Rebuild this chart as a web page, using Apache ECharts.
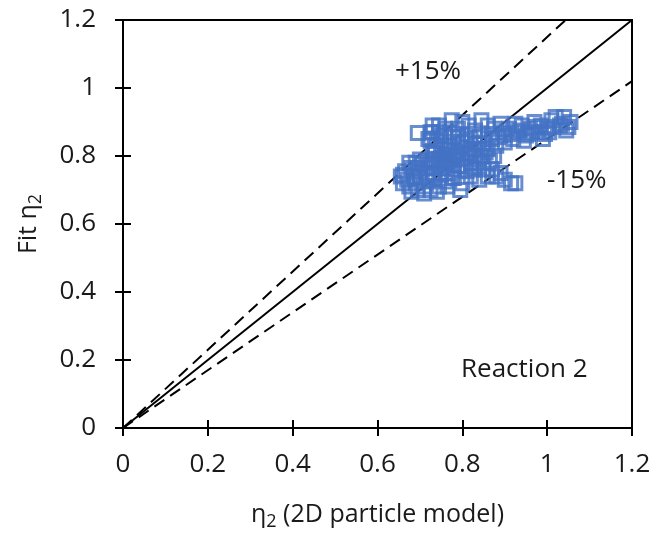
<!DOCTYPE html>
<html>
<head>
<meta charset="utf-8">
<script src="https://cdn.jsdelivr.net/npm/echarts@6/dist/echarts.min.js"></script>
<style>
  html, body { margin: 0; padding: 0; background: #fff; }
  #chart { width: 655px; height: 539px; }
</style>
</head>
<body>
<div id="chart"></div>
<script>
// eta2 from the 2D particle model (x) vs fitted eta2 (y)
var etaModel = [
  0.655, 0.66, 0.665, 0.67, 0.675, 0.68, 0.685, 0.69, 0.695, 0.70, 0.70, 0.705, 0.71, 0.715, 0.72, 0.72,
  0.725, 0.73, 0.735, 0.74, 0.745, 0.75, 0.755, 0.76, 0.765, 0.77, 0.775, 0.78, 0.68, 0.695, 0.71, 0.74,
  0.66, 0.69, 0.725,
  0.73, 0.745, 0.76, 0.775, 0.79, 0.80, 0.815, 0.83, 0.845, 0.86, 0.875, 0.89, 0.72, 0.735,
  0.74, 0.75, 0.76, 0.77, 0.78, 0.79, 0.80, 0.80, 0.81, 0.82, 0.83, 0.84, 0.85, 0.86, 0.87, 0.78,
  0.76, 0.79, 0.82, 0.84, 0.88, 0.81, 0.83, 0.85, 0.80, 0.82, 0.84, 0.78, 0.795, 0.765,
  0.90, 0.91, 0.92, 0.93, 0.94, 0.95, 0.96, 0.97, 0.98, 0.99, 1.00, 1.01, 1.02, 1.03, 1.045, 1.055,
  0.985, 0.90, 0.945, 1.04,
  0.87, 0.88, 0.89, 0.90, 0.915, 0.925, 0.86, 0.85,
  0.695,
  0.75, 0.77, 0.79, 0.81, 0.83, 0.85, 0.87, 0.755, 0.775, 0.795, 0.815, 0.835, 0.855, 0.875, 0.895,
  0.745, 0.765, 0.785, 0.805, 0.825, 0.845, 0.865, 0.885, 0.73, 0.75, 0.77, 0.79, 0.81, 0.83,
  0.915, 0.935, 0.955, 0.975, 0.995, 1.015, 1.035, 1.05, 0.925, 0.965, 1.005,
  0.725, 0.725, 0.73, 0.745, 0.76, 0.735, 0.70, 0.715, 0.675, 0.73
];
var etaFit = [
  0.74, 0.72, 0.755, 0.73, 0.71, 0.765, 0.74, 0.72, 0.70, 0.755, 0.735, 0.775, 0.71, 0.745, 0.765, 0.725,
  0.70, 0.75, 0.73, 0.775, 0.71, 0.745, 0.765, 0.725, 0.75, 0.78, 0.735, 0.76, 0.695, 0.765, 0.69, 0.695,
  0.745, 0.78, 0.78,
  0.87, 0.89, 0.88, 0.905, 0.88, 0.90, 0.89, 0.875, 0.905, 0.89, 0.88, 0.895, 0.85, 0.83,
  0.845, 0.82, 0.80, 0.83, 0.855, 0.81, 0.79, 0.84, 0.865, 0.82, 0.80, 0.84, 0.86, 0.82, 0.85, 0.79,
  0.775, 0.77, 0.78, 0.79, 0.83, 0.755, 0.76, 0.78, 0.72, 0.74, 0.73, 0.735, 0.70, 0.71,
  0.86, 0.88, 0.85, 0.87, 0.89, 0.86, 0.88, 0.90, 0.87, 0.85, 0.88, 0.905, 0.915, 0.89, 0.875, 0.90,
  0.89, 0.84, 0.845, 0.915,
  0.76, 0.74, 0.75, 0.73, 0.72, 0.72, 0.74, 0.76,
  0.868,
  0.86, 0.87, 0.855, 0.845, 0.855, 0.835, 0.865, 0.805, 0.815, 0.825, 0.81, 0.82, 0.81, 0.80, 0.87,
  0.79, 0.785, 0.80, 0.77, 0.765, 0.80, 0.785, 0.855, 0.815, 0.795, 0.805, 0.835, 0.805, 0.835,
  0.865, 0.875, 0.865, 0.885, 0.865, 0.885, 0.895, 0.885, 0.895, 0.87, 0.87,
  0.87, 0.845, 0.89, 0.87, 0.86, 0.81, 0.79, 0.785, 0.78, 0.79
];
var axisTicks = [0, 0.2, 0.4, 0.6, 0.8, 1, 1.2];
var lineEnd = 1.2;
var upperSlope = 1.15;   // +15%
var lowerSlope = 0.85;   // -15%

var points = etaModel.map(function (x, i) { return [x, etaFit[i]]; });
var parity = [[0, 0], [lineEnd, lineEnd]];
var upper = [[0, 0], [lineEnd / upperSlope, lineEnd]];
var lower = [[0, 0], [lineEnd, lineEnd * lowerSlope]];

var FONT = '"Open Sans", Lato, sans-serif';
var txt = '#1a1a1a';
var gridBox = { left: 123, right: 23, top: 20, bottom: 111 };

// main axes: line, outer tick half, labels, names
function makeAxis(pos, name, gap) {
  return {
    type: 'value',
    gridIndex: 0,
    position: pos,
    min: axisTicks[0],
    max: axisTicks[axisTicks.length - 1],
    interval: 0.2,
    name: name,
    nameLocation: 'middle',
    nameGap: gap,
    nameRotate: pos === 'left' ? 90 : 0,
    nameTextStyle: {
      fontFamily: FONT, fontSize: 25, color: txt,
      rich: {
        m: { fontFamily: FONT, fontSize: 25, color: txt, lineHeight: 33 },
        s: { fontFamily: FONT, fontSize: 18, color: txt, lineHeight: 18, verticalAlign: 'bottom' }
      }
    },
    splitLine: { show: false },
    axisLine: { show: true, onZero: false, lineStyle: { color: '#000', width: 2 } },
    axisTick: { show: true, inside: false, length: 8, lineStyle: { color: '#000', width: 2 } },
    axisLabel: {
      show: true, margin: pos === 'left' ? 27 : 24, fontFamily: FONT, fontSize: 26, color: txt,
      formatter: function (v) { return String(+v.toFixed(1)); }
    }
  };
}

// twin axes on a second, identical grid: only the inner tick half
function innerTicks(pos) {
  return {
    type: 'value',
    gridIndex: 1,
    position: pos,
    min: axisTicks[0],
    max: axisTicks[axisTicks.length - 1],
    interval: 0.2,
    splitLine: { show: false },
    axisLine: { show: false, onZero: false },
    axisLabel: { show: false },
    axisTick: { show: true, inside: true, length: 8, lineStyle: { color: '#000', width: 2 } }
  };
}

var chart = echarts.init(document.getElementById('chart'), null, { renderer: 'canvas' });
chart.setOption({
  backgroundColor: '#fff',
  animation: false,
  grid: [
    Object.assign({ show: true, borderColor: '#000', borderWidth: 2, backgroundColor: 'transparent' }, gridBox),
    Object.assign({}, gridBox)
  ],
  xAxis: [
    makeAxis('bottom', '{m|η}{s|2}{m| (2D particle model)}', 70),
    innerTicks('bottom')
  ],
  yAxis: [
    makeAxis('left', '{m|Fit η}{s|2}', 78),
    innerTicks('left')
  ],
  series: [
    {
      type: 'line', data: parity, symbol: 'none', z: 2,
      lineStyle: { color: '#000', width: 2 }
    },
    {
      type: 'line', data: upper, symbol: 'none', z: 2,
      lineStyle: { color: '#000', width: 2, type: [12, 7] }
    },
    {
      type: 'line', data: lower, symbol: 'none', z: 2,
      lineStyle: { color: '#000', width: 2, type: [12, 7] }
    },
    {
      type: 'scatter', data: points, symbol: 'rect', symbolSize: 13, z: 3,
      itemStyle: { color: 'rgba(0,0,0,0)', borderColor: '#4472C4', borderWidth: 3 }
    }
  ],
  graphic: [
    { type: 'text', left: 395, top: 59, style: { text: '+15%', font: '26px ' + FONT, fill: txt } },
    { type: 'text', left: 547, top: 168, style: { text: '-15%', font: '26px ' + FONT, fill: txt } },
    { type: 'text', left: 461, top: 357, style: { text: 'Reaction 2', font: '26px ' + FONT, fill: txt } }
  ]
});
</script>
</body>
</html>
